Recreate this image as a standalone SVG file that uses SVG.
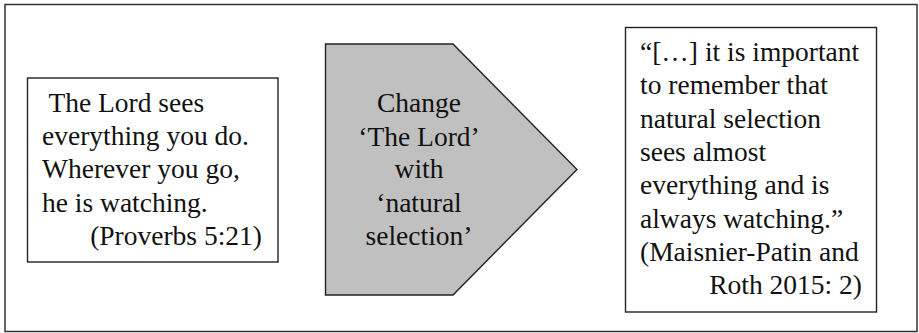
<svg xmlns="http://www.w3.org/2000/svg" width="919" height="333" viewBox="0 0 919 333" font-family="'Liberation Serif', 'Times New Roman', Times, serif" font-size="27.5">
<style>
.frame{fill:#fff;stroke:#333;stroke-width:1.5}
.box{fill:#fff;stroke:#222;stroke-width:1.4}
.arrow{fill:#c0c0c0;stroke:#222;stroke-width:1.4}
.t{font-family:'Liberation Serif','Times New Roman',Times,serif;font-size:27.5px;fill:#111}
.mid{text-anchor:middle}
.end{text-anchor:end}
</style>
<rect class="frame" x="5" y="4.5" width="912" height="327"/>
<g id="source" class="t">
<rect class="box" x="27.5" y="78" width="250.5" height="184"/>
<text x="42" y="112" xml:space="preserve"> The Lord sees</text>
<text x="42" y="145">everything you do.</text>
<text x="42" y="178">Wherever you go,</text>
<text x="42" y="212">he is watching.</text>
<text class="end" x="262" y="245">(Proverbs 5:21)</text>
</g>
<g id="change" class="t">
<polygon class="arrow" points="325.5,44 453,44 577,169.5 453,295 325.5,295"/>
<text class="mid" x="419" y="112">Change</text>
<text class="mid" x="419" y="146">‘The Lord’</text>
<text class="mid" x="419" y="178">with</text>
<text class="mid" x="419" y="212">‘natural</text>
<text class="mid" x="419" y="245">selection’</text>
</g>
<g id="target" class="t">
<rect class="box" x="625.5" y="27.5" width="251" height="284.5"/>
<text x="640" y="61">“[…] it is important</text>
<text x="640" y="94">to remember that</text>
<text x="640" y="128">natural selection</text>
<text x="640" y="161">sees almost</text>
<text x="640" y="194">everything and is</text>
<text x="640" y="228">always watching.”</text>
<text x="640" y="261">(Maisnier-Patin and</text>
<text class="end" x="862" y="294">Roth 2015: 2)</text>
</g>
<g id="connectors"/>
</svg>
